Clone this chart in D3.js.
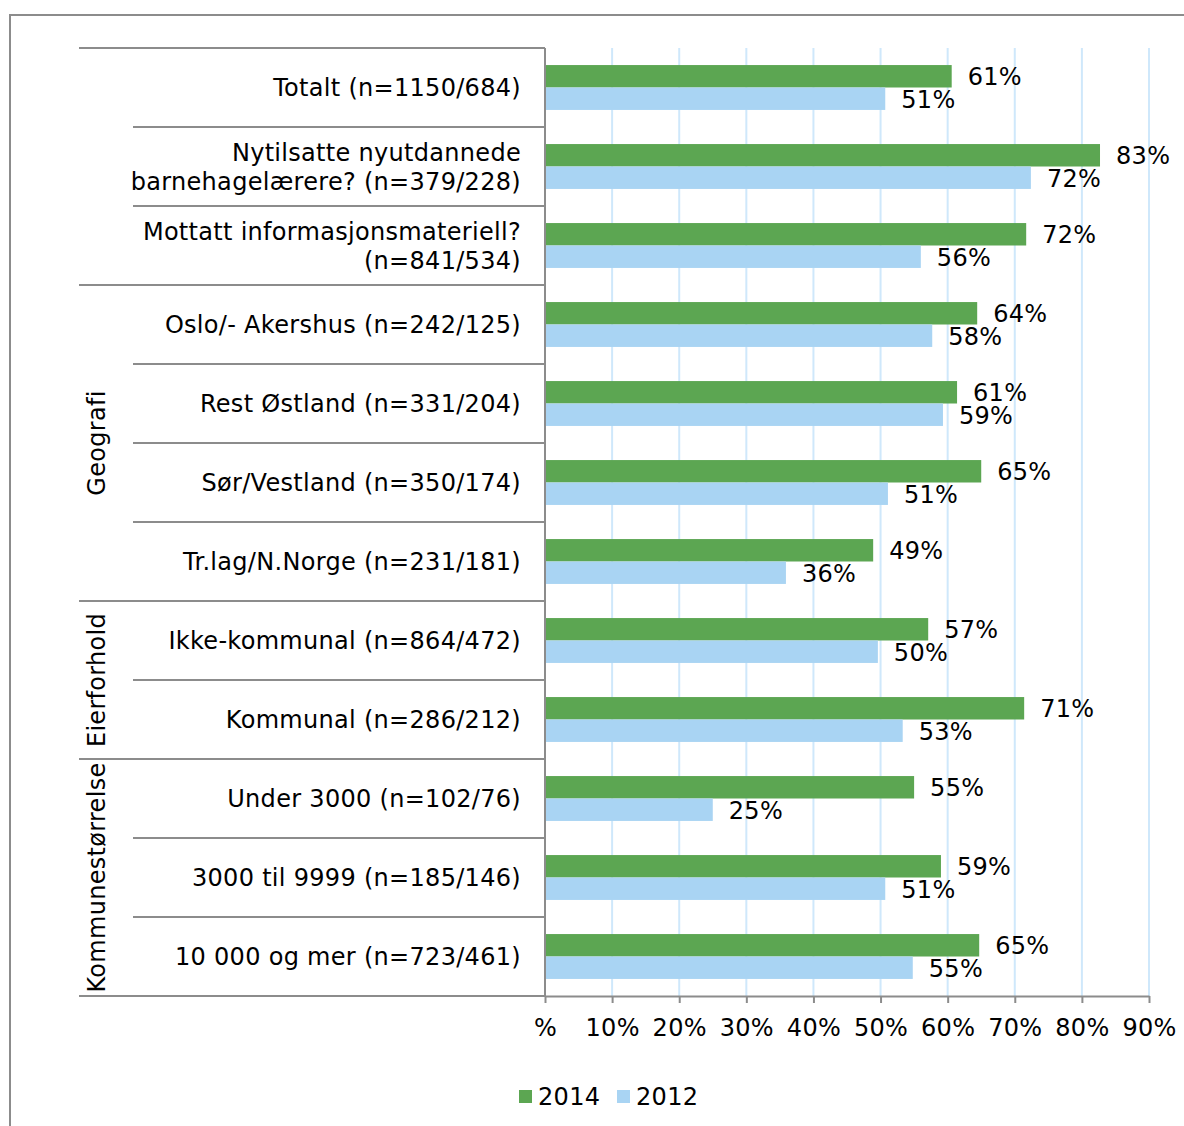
<!DOCTYPE html>
<html>
<head>
<meta charset="utf-8">
<script src="https://cdn.jsdelivr.net/npm/d3@7"></script>
<style>
  body { margin: 0; background: #fff; }
  text { font-family: "DejaVu Sans", Verdana, sans-serif; fill: #000; letter-spacing: 0.3px; }
</style>
</head>
<body>
<div id="chart"></div>
<script>
let width = 1184;
let height = 1126;

// Categories, top to bottom (multi-line labels split by "|")
let categories = [
    "Totalt (n=1150/684)",
    "Nytilsatte nyutdannede|barnehagelærere? (n=379/228)",
    "Mottatt informasjonsmateriell?|(n=841/534)",
    "Oslo/- Akershus (n=242/125)",
    "Rest Østland (n=331/204)",
    "Sør/Vestland (n=350/174)",
    "Tr.lag/N.Norge (n=231/181)",
    "Ikke-kommunal (n=864/472)",
    "Kommunal (n=286/212)",
    "Under 3000 (n=102/76)",
    "3000 til 9999 (n=185/146)",
    "10 000 og mer (n=723/461)"
];

// group labels: name, first row, last row
let groupNames = ["", "Geografi", "Eierforhold", "Kommunestørrelse"];
let groupStart = [0, 3, 7, 9];
let groupEnd = [2, 6, 8, 11];

let seriesNames = ["2014", "2012"];
let values2014 = [60.6, 82.7, 71.7, 64.4, 61.4, 65.0, 48.9, 57.1, 71.4, 55.0, 59.0, 64.7];
let values2012 = [50.7, 72.4, 56.0, 57.7, 59.3, 51.1, 35.9, 49.6, 53.3, 25.0, 50.7, 54.8];

let tickValues = [0, 10, 20, 30, 40, 50, 60, 70, 80, 90];
let tickLabels = ["%", "10%", "20%", "30%", "40%", "50%", "60%", "70%", "80%", "90%"];

let colors = { "2014": "#5ca652", "2012": "#a9d4f3" };
let lineColor = "#8c8c8c";
let gridColor = "#cfe8fb";
let fontSize = 24;

let svg = d3.select("#chart")
    .append("svg")
    .attr("width", width)
    .attr("height", height);

// outer frame (top and left edges visible)
svg.append("path")
    .attr("d", "M10," + height + "V15H" + width)
    .attr("fill", "none")
    .attr("stroke", lineColor)
    .attr("stroke-width", 2);

let xScale = d3.scaleLinear()
    .domain([0, 90])
    .range([545, 1149]);

let yScale = d3.scaleBand()
    .domain(d3.range(categories.length))
    .range([48, 996])
    .padding(0);

let subScale = d3.scaleBand()
    .domain(seriesNames)
    .range([0, yScale.bandwidth()])
    .paddingInner(0)
    .paddingOuter(0.76);

// gridlines
svg.append("g")
    .selectAll("line")
    .data(tickValues.slice(1))
    .join("line")
    .attr("x1", d => xScale(d))
    .attr("x2", d => xScale(d))
    .attr("y1", yScale.range()[0])
    .attr("y2", yScale.range()[1])
    .attr("stroke", gridColor)
    .attr("stroke-width", 2);

// bars
let rows = categories.map((c, i) => ({ i: i, "2014": values2014[i], "2012": values2012[i] }));

let rowG = svg.append("g")
    .selectAll("g")
    .data(rows)
    .join("g")
    .attr("transform", d => "translate(0," + yScale(d.i) + ")");

seriesNames.forEach(function(s) {
    rowG.append("rect")
        .attr("x", xScale(0))
        .attr("y", subScale(s))
        .attr("width", d => xScale(d[s]) - xScale(0))
        .attr("height", subScale.bandwidth())
        .attr("fill", colors[s]);

    rowG.append("text")
        .attr("x", d => xScale(d[s]) + 16)
        .attr("y", subScale(s) + subScale.bandwidth() / 2)
        .attr("dy", "0.38em")
        .style("font-size", fontSize + "px")
        .text(d => Math.round(d[s]) + "%");
});

// x axis
let xAxis = d3.axisBottom(xScale)
    .tickValues(tickValues)
    .tickFormat((d, i) => tickLabels[i])
    .tickSize(7)
    .tickSizeOuter(0);

let axisG = svg.append("g")
    .attr("transform", "translate(0," + yScale.range()[1] + ")")
    .call(xAxis);

axisG.select(".domain").attr("stroke", lineColor).attr("stroke-width", 2);
axisG.selectAll(".tick line").attr("stroke", lineColor).attr("stroke-width", 2);
axisG.selectAll(".tick text")
    .attr("y", 23)
    .attr("dy", "0.71em")
    .style("font-family", "'DejaVu Sans', Verdana, sans-serif")
    .style("font-size", fontSize + "px")
    .attr("fill", "#000");

// category axis line
svg.append("line")
    .attr("x1", xScale(0))
    .attr("x2", xScale(0))
    .attr("y1", yScale.range()[0])
    .attr("y2", yScale.range()[1])
    .attr("stroke", lineColor)
    .attr("stroke-width", 2);

// separators between category rows
let groupBounds = groupStart.concat([categories.length]);
let bounds = d3.range(categories.length + 1);
svg.append("g")
    .selectAll("line")
    .data(bounds)
    .join("line")
    .attr("x1", d => groupBounds.includes(d) ? 79 : 133)
    .attr("x2", xScale(0))
    .attr("y1", d => yScale.range()[0] + d * yScale.step())
    .attr("y2", d => yScale.range()[0] + d * yScale.step())
    .attr("stroke", lineColor)
    .attr("stroke-width", 2);

// category labels
let lineHeight = 29;
svg.append("g")
    .selectAll("text")
    .data(categories)
    .join("text")
    .attr("x", 521)
    .attr("y", (d, i) => yScale(i) + yScale.bandwidth() / 2)
    .attr("text-anchor", "end")
    .style("font-size", fontSize + "px")
    .each(function(d) {
        let parts = d.split("|");
        let t = d3.select(this);
        parts.forEach(function(p, k) {
            t.append("tspan")
                .attr("x", 521)
                .attr("dy", k === 0 ? ((0.36 * fontSize) - (parts.length - 1) * lineHeight / 2) + "px" : lineHeight + "px")
                .text(p);
        });
    });

// group labels (rotated)
groupNames.forEach(function(g, k) {
    if (!g) return;
    let yc = (yScale(groupStart[k]) + yScale(groupEnd[k]) + yScale.bandwidth()) / 2;
    svg.append("text")
        .attr("transform", "translate(96," + yc + ") rotate(-90)")
        .attr("text-anchor", "middle")
        .attr("dy", "0.36em")
        .style("font-size", fontSize + "px")
        .text(g);
});

// legend
let legendX = [519, 617];
seriesNames.forEach(function(s, k) {
    svg.append("rect")
        .attr("x", legendX[k])
        .attr("y", 1090)
        .attr("width", 13)
        .attr("height", 13)
        .attr("fill", colors[s]);
    svg.append("text")
        .attr("x", legendX[k] + 19)
        .attr("y", 1105)
        .style("font-size", fontSize + "px")
        .text(s);
});
</script>
</body>
</html>
